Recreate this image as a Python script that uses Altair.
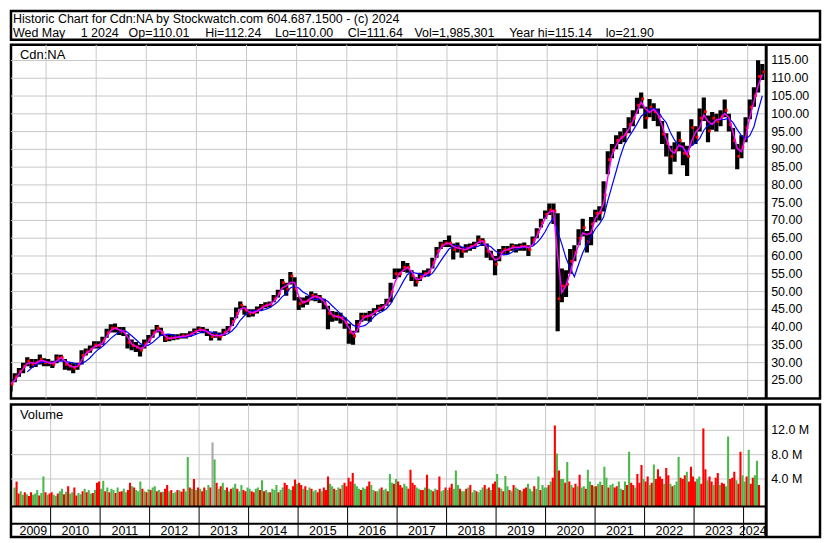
import altair as alt
import pandas as pd

# ---------------- data (monthly, Apr 2009 .. Apr 2024) ----------------
START_YEAR, START_MONTH = 2009, 4

close = [
    24.0, 26.0, 27.5, 29.0, 30.5, 29.5, 30.0, 31.0, 30.0,
    30.0, 29.5, 31.3, 31.5, 29.5, 29.0, 28.5, 29.3, 32.0, 33.0, 33.8, 35.0,
    34.8, 36.2, 38.4, 39.7, 39.7, 38.8, 38.8, 35.7, 34.8, 34.4, 33.5, 35.3,
    36.6, 38.4, 39.7, 38.4, 36.6, 36.9, 37.1, 37.2, 37.5, 37.5, 38.1, 38.8,
    39.4, 39.1, 38.5, 37.3, 37.8, 37.3, 38.5, 39.4, 41.6, 43.9, 46.2, 44.8,
    43.9, 44.1, 44.8, 45.7, 46.2, 46.4, 48.0, 49.4, 52.5, 50.7, 54.4, 50.7,
    46.6, 47.1, 47.5, 48.9, 48.5, 48.0, 46.6, 43.9, 43.0, 43.0, 42.5, 41.2,
    38.5, 37.5, 40.7, 43.0, 43.0, 43.4, 44.4, 45.3, 45.7, 47.1, 50.0, 55.0,
    55.0, 56.8, 56.8, 54.5, 52.7, 54.1, 55.0, 55.5, 58.2, 61.3, 63.1, 63.6,
    63.6, 61.8, 62.7, 61.3, 62.2, 62.7, 63.1, 64.5, 64.0, 61.3, 60.0, 57.7,
    60.9, 61.8, 61.8, 62.7, 62.2, 62.7, 62.7, 61.8, 64.5, 66.7, 69.4, 71.7,
    73.0, 72.6, 48.0, 51.5, 52.0, 58.5, 61.0, 65.0, 68.0, 64.0, 69.0, 72.0,
    72.2, 77.2, 87.1, 89.8, 92.5, 93.4, 94.3, 97.0, 98.8, 102.4, 104.2, 98.8,
    101.9, 100.6, 99.2, 94.3, 91.6, 88.0, 89.8, 92.5, 88.9, 88.0, 96.1, 93.4,
    98.8, 100.6, 95.2, 98.8, 97.9, 99.2, 101.0, 97.0, 92.5, 88.0, 90.7, 96.1,
    101.9, 105.1, 110.5, 111.8,
]
high = [
    25.5, 27.0, 28.5, 30.0, 31.5, 31.0, 31.0, 32.3, 31.2,
    31.0, 30.5, 32.3, 32.2, 31.0, 30.0, 29.8, 30.0, 33.5, 34.0, 34.8, 36.0,
    36.0, 37.3, 39.5, 40.8, 41.0, 40.0, 40.0, 38.0, 36.5, 35.8, 35.0, 36.5,
    37.8, 39.3, 40.6, 39.8, 38.0, 37.8, 38.0, 38.0, 38.3, 38.3, 38.8, 39.6,
    40.2, 40.0, 39.5, 38.5, 38.8, 38.5, 39.5, 40.3, 42.8, 45.5, 47.2, 46.0,
    45.0, 45.0, 45.8, 46.5, 47.0, 47.2, 49.0, 50.5, 53.5, 52.5, 55.5, 54.0,
    48.5, 48.3, 48.8, 50.0, 49.5, 49.0, 48.0, 46.0, 44.5, 44.3, 44.0, 42.8,
    41.0, 39.0, 42.0, 44.0, 44.0, 44.5, 45.3, 46.3, 46.5, 48.0, 52.5, 56.5,
    56.5, 58.6, 58.0, 56.0, 54.0, 55.3, 56.0, 56.5, 59.5, 62.5, 64.0, 64.5,
    65.8, 63.5, 63.8, 62.5, 63.3, 63.5, 64.0, 65.8, 65.0, 63.5, 61.5, 60.0,
    62.0, 62.8, 62.8, 63.5, 63.3, 63.5, 63.8, 63.0, 65.5, 67.8, 70.5, 72.8,
    74.8, 74.8, 72.0, 56.5, 56.0, 62.0, 63.0, 67.5, 70.5, 67.0, 71.0, 73.0,
    74.0, 81.0, 89.5, 91.5, 94.0, 95.0, 96.0, 99.0, 101.0, 104.5, 106.0, 102.0,
    104.2, 103.0, 101.5, 98.0, 94.5, 91.0, 92.0, 95.0, 92.0, 91.0, 98.5, 96.5,
    101.5, 104.6, 99.5, 100.5, 100.0, 101.0, 104.0, 100.0, 96.0, 91.5, 94.0, 99.0,
    104.0, 107.5, 115.1, 114.0,
]
low = [
    21.9, 24.5, 26.0, 27.0, 29.0, 28.5, 28.8, 29.5, 29.0,
    29.0, 28.5, 29.8, 30.5, 28.0, 27.8, 27.0, 28.0, 29.5, 32.0, 32.8, 34.0,
    34.0, 35.0, 37.0, 38.5, 38.5, 37.8, 37.5, 34.0, 33.5, 33.0, 31.7, 34.0,
    35.5, 37.0, 38.5, 37.5, 35.8, 36.0, 36.3, 36.5, 36.8, 36.8, 37.3, 38.0,
    38.6, 38.3, 37.5, 36.2, 37.0, 36.2, 37.5, 38.5, 40.3, 42.5, 45.0, 43.5,
    42.8, 43.0, 43.8, 44.8, 45.3, 45.5, 47.0, 48.3, 50.5, 48.8, 52.0, 47.5,
    44.8, 45.5, 46.3, 47.5, 47.3, 46.8, 45.0, 39.4, 41.5, 41.8, 41.0, 39.5,
    35.3, 35.0, 38.5, 41.5, 41.8, 41.5, 43.3, 44.3, 44.5, 46.0, 47.0, 53.5,
    54.0, 55.5, 55.3, 53.0, 51.4, 53.0, 54.0, 54.3, 56.5, 59.5, 62.0, 62.5,
    62.5, 59.0, 61.0, 59.5, 61.0, 61.5, 62.0, 63.3, 62.8, 59.5, 58.8, 54.6,
    58.5, 60.5, 60.5, 61.5, 61.0, 61.5, 61.5, 60.0, 63.0, 65.0, 68.0, 70.5,
    71.5, 69.0, 38.8, 47.0, 48.5, 55.0, 58.5, 63.0, 65.5, 61.0, 63.0, 69.5,
    70.0, 72.5, 83.0, 87.5, 90.0, 91.5, 92.0, 94.5, 96.5, 100.0, 101.5, 95.8,
    99.0, 98.0, 96.5, 91.5, 88.0, 83.0, 86.5, 89.5, 85.5, 82.5, 91.0, 91.5,
    95.0, 98.0, 92.0, 95.5, 95.0, 96.5, 99.0, 95.0, 90.0, 84.4, 87.5, 92.0,
    98.5, 102.0, 106.0, 109.5,
]

# volume, two values per month (first half, second half), in millions
volume_half = [
    2.6, 3.6, 1.6, 2.0, 1.4, 1.8, 1.5, 1.2, 1.8, 1.4, 1.6, 2.2, 1.3, 1.7, 4.4, 1.8, 1.4, 1.6,
    1.8, 1.4, 1.2, 1.6, 2.0, 2.4, 1.5, 1.9, 2.8, 1.6, 1.8, 2.6, 1.3, 1.7, 1.5, 2.0, 2.4, 1.8, 2.2, 1.6, 1.7, 2.2, 3.4, 3.6,
    2.4, 3.7, 2.0, 2.6, 1.8, 2.4, 2.2, 1.7, 2.6, 1.9, 2.0, 2.4, 1.8, 2.2, 3.4, 2.8, 2.6, 2.2, 2.0, 3.6, 2.4, 2.0, 1.8, 2.3,
    2.2, 2.6, 2.8, 2.0, 2.2, 1.8, 1.9, 2.4, 3.0, 2.0, 2.2, 1.7, 1.8, 2.2, 2.1, 1.9, 2.4, 2.0, 7.6, 2.6, 2.4, 4.0, 2.2, 2.6,
    2.4, 2.0, 2.6, 2.2, 3.0, 2.6, 10.0, 7.2, 3.4, 2.4, 2.8, 3.4, 2.2, 2.6, 2.0, 2.4, 2.6, 3.2, 2.4, 2.0, 3.0, 2.2, 2.0, 2.6,
    2.4, 2.0, 1.8, 2.4, 2.6, 2.2, 3.8, 2.0, 2.2, 1.8, 1.8, 2.4, 2.2, 3.0, 1.8, 2.2, 2.6, 3.4, 3.0, 2.4, 2.2, 2.8, 3.9, 3.2,
    3.4, 3.0, 2.4, 2.8, 2.2, 2.6, 2.4, 2.0, 2.2, 1.8, 2.4, 2.0, 2.6, 2.2, 4.4, 3.2, 2.8, 2.4, 2.2, 2.6, 2.4, 3.0, 3.4, 2.8,
    4.2, 3.6, 5.0, 3.2, 2.8, 2.4, 2.2, 2.6, 2.4, 2.8, 3.6, 3.0, 2.2, 2.0, 2.0, 2.4, 2.6, 2.2, 2.4, 2.0, 4.8, 3.4, 3.2, 4.0,
    3.6, 3.0, 2.6, 3.2, 2.8, 2.4, 5.5, 3.4, 3.0, 2.6, 2.4, 2.2, 2.2, 2.6, 4.7, 2.4, 2.2, 2.0, 2.4, 2.2, 4.4, 2.0, 2.2, 2.6,
    2.2, 2.6, 3.2, 2.4, 5.4, 3.0, 2.4, 2.0, 2.0, 2.4, 2.6, 3.0, 1.8, 2.2, 2.0, 1.8, 2.2, 2.6, 3.0, 2.4, 2.6, 2.2, 3.2, 3.6,
    4.8, 2.6, 2.4, 2.0, 4.5, 2.8, 2.2, 2.0, 3.0, 2.6, 2.4, 2.2, 2.0, 2.4, 2.6, 3.2, 2.4, 2.0, 2.8, 2.4, 4.4, 2.2, 3.0, 2.6,
    2.6, 3.0, 3.6, 4.2, 12.8, 8.2, 5.4, 4.0, 4.0, 3.4, 6.8, 3.6, 3.0, 2.6, 3.2, 2.8, 4.7, 2.6, 2.8, 2.4, 5.5, 3.6, 3.0, 2.8,
    2.8, 3.2, 3.6, 3.0, 6.0, 4.2, 2.6, 3.0, 3.2, 2.6, 2.8, 3.6, 2.4, 2.2, 3.6, 3.0, 8.5, 3.4, 3.0, 2.6, 4.8, 3.4, 6.3, 4.0,
    3.6, 4.4, 3.0, 3.4, 6.4, 4.0, 5.6, 4.4, 4.0, 3.2, 5.8, 4.6, 3.2, 2.8, 3.0, 3.6, 7.6, 4.2, 4.0, 4.6, 5.2, 3.6, 6.0, 4.4,
    3.6, 4.0, 4.4, 3.2, 12.3, 5.6, 3.8, 4.4, 3.6, 3.0, 4.2, 5.0, 3.0, 3.4, 3.2, 2.8, 11.0, 4.0, 4.2, 5.2, 3.8, 3.2, 8.5, 4.6,
    3.6, 4.4, 8.8, 3.2, 4.2, 4.6, 7.0, 3.0,
]
# bar colour of each half-month: g = up, r = down, n = unchanged
volume_side = "".join([
    "grrggrgrrgggrggrgrg"[:18],
    "rggrggrgrggrrggrgrggrgrr",
    "ggrgrggrgrrggrrgrgggrgrg",
    "rggrgrgrrgrggrgrrggrgrgr",
    "grrggrngrgrggrgrggrggrrg",
    "grrggrgrggrgggrggrrggrrg",
    "rrgrggrggrrgrrrggrggrgrr",
    "rrrgggrggrrggrggrggrggrg",
    "rrrggrrrrggrrgrggrgrrggr",
    "grrgggrggrgrggrgggrgrgrr",
    "grgrggrgrggrgrrgggrggrgg",
    "grgrrgrggrgrgrrgrggrggrg",
    "rggrggrggrrggrgrgrrgrrrg",
    "rrgrgrrrrgrrgrgggrrrgrrr",
    "rggrrrgrrgrrgrrggrrrgrrg",
    "grgrrggr",
])

price_ticks = [25, 30, 35, 40, 45, 50, 55, 60, 65, 70, 75, 80, 85, 90, 95,
               100, 105, 110, 115]
volume_ticks = [4000000, 8000000, 12000000]
year_labels = list(range(2009, 2025))
grid_years = list(range(2010, 2025))

title_line = "Historic Chart for Cdn:NA by Stockwatch.com 604.687.1500 - (c) 2024"
info_items = ["Wed May", "1 2024", "Op=110.01", "Hi=112.24", "Lo=110.00",
              "Cl=111.64", "Vol=1,985,301", "Year hi=115.14", "lo=21.90"]
info_x = [2, 70, 118, 195, 265, 338, 405, 500, 597]

# ---------------- layout ----------------
FONT = "Liberation Sans"
PLOT_W = 758
VIEW_W = 812
HEAD_H = 29
PRICE_H = 355
VOL_H = 133
X0, X1 = 2009.30, 2024.37
X1_VIEW = X1 + (VIEW_W - PLOT_W) * (X1 - X0) / PLOT_W
P0, P1 = 19.9, 119.4
V0, V1 = -5550000, 16250000
VOL_BASE = -530000
DATE_TOP = 102.4
DATE_MID = 119.6
LABEL_X = PLOT_W + 5

n = len(close)
t = [START_YEAR + (START_MONTH - 1 + i + 0.5) / 12 for i in range(n)]
df = pd.DataFrame({"t": t, "close": close, "high": high, "low": low})

nh = len(volume_half)
vdf = pd.DataFrame({
    "t": [START_YEAR + (START_MONTH - 1 + i / 2 + 0.25) / 12 for i in range(nh)],
    "volume": [v * 1e6 for v in volume_half],
    "side": list(volume_side[:nh]),
})

x_scale = alt.Scale(domain=[X0, X1_VIEW], nice=False, zero=False)
p_scale = alt.Scale(domain=[P0, P1], nice=False, zero=False)
v_scale = alt.Scale(domain=[V0, V1], nice=False, zero=False)
GRID = "#c8c8c8"

# ---------------- header ----------------
head_df = pd.DataFrame({
    "txt": [title_line] + info_items,
    "x": [2] + info_x,
    "y": [12.0] + [26.2] * len(info_items),
})
header = alt.Chart(head_df).mark_text(
    align="left", baseline="alphabetic", font=FONT, fontSize=12.5, color="black"
).encode(
    x=alt.X("x:Q", scale=None), y=alt.Y("y:Q", scale=None), text="txt:N"
).properties(width=VIEW_W, height=HEAD_H)

# ---------------- price panel ----------------
xq = alt.X("t:Q", scale=x_scale, axis=None)
ticks_df = pd.DataFrame({"p": price_ticks})

p_hgrid = alt.Chart(ticks_df).mark_rule(color=GRID, strokeWidth=1).encode(
    y=alt.Y("p:Q", scale=p_scale, axis=None),
    x=alt.value(0), x2=alt.value(PLOT_W),
)
p_axis_labels = alt.Chart(ticks_df).mark_text(
    align="left", baseline="middle", font=FONT, fontSize=12.5, color="black"
).encode(
    y=alt.Y("p:Q", scale=p_scale, axis=None),
    x=alt.value(LABEL_X),
    text=alt.Text("p:Q", format=".2f"),
)
p_vgrid = alt.Chart(pd.DataFrame({"yr": grid_years})).mark_rule(
    color=GRID, strokeWidth=1
).encode(x=alt.X("yr:Q", scale=x_scale, axis=None),
         y=alt.value(0), y2=alt.value(PRICE_H))

ohlc = alt.Chart(df).mark_rule(color="black", strokeWidth=4.2, clip=True).encode(
    x=xq, y=alt.Y("low:Q", scale=p_scale, axis=None), y2="high:Q")
ticks_close = alt.Chart(df).mark_square(color="red", size=8, xOffset=1.5, clip=True,
                                         opacity=1).encode(
    x=xq, y=alt.Y("close:Q", scale=p_scale, axis=None))
ma_short = alt.Chart(df).transform_window(
    ma1="mean(close)", frame=[-1, 0], sort=[alt.SortField("t")]
).mark_line(color="#ff00ff", strokeWidth=1.5, clip=True).encode(
    x=xq, y=alt.Y("ma1:Q", scale=p_scale, axis=None))
ma_long = alt.Chart(df).transform_window(
    ma2="mean(close)", rn="row_number()", frame=[-4, 0], sort=[alt.SortField("t")]
).transform_filter("datum.rn >= 5").mark_line(
    color="#0000ff", strokeWidth=1.2, clip=True).encode(
    x=xq, y=alt.Y("ma2:Q", scale=p_scale, axis=None))
p_sep = alt.Chart(pd.DataFrame({"a": [0]})).mark_rule(color="black", strokeWidth=3).encode(
    x=alt.value(PLOT_W), y=alt.value(0), y2=alt.value(PRICE_H))
p_label = alt.Chart(pd.DataFrame({"txt": ["Cdn:NA"]})).mark_text(
    align="left", baseline="alphabetic", font=FONT, fontSize=13, color="black"
).encode(x=alt.value(9), y=alt.value(14.5), text="txt:N")

price = alt.layer(p_hgrid, p_vgrid, ohlc, ticks_close, ma_long, ma_short,
                  p_sep, p_label, p_axis_labels).properties(width=VIEW_W, height=PRICE_H)

# ---------------- volume panel + date strip ----------------
vt_df = pd.DataFrame({"v": volume_ticks})
v_hgrid = alt.Chart(vt_df).mark_rule(color=GRID, strokeWidth=1).encode(
    y=alt.Y("v:Q", scale=v_scale, axis=None),
    x=alt.value(0), x2=alt.value(PLOT_W),
)
v_axis_labels = alt.Chart(vt_df).transform_calculate(
    lab="format(datum.v / 1000000, '.1f') + ' M'"
).mark_text(
    align="left", baseline="middle", font=FONT, fontSize=12.5, color="black"
).encode(
    y=alt.Y("v:Q", scale=v_scale, axis=None),
    x=alt.value(LABEL_X), text="lab:N",
)
v_vgrid = alt.Chart(pd.DataFrame({"yr": grid_years})).mark_rule(
    color=GRID, strokeWidth=1
).encode(x=alt.X("yr:Q", scale=x_scale, axis=None),
         y=alt.value(0), y2=alt.value(DATE_TOP))
vol_bars = alt.Chart(vdf).mark_bar(size=2.1, clip=True).encode(
    x=xq,
    y=alt.Y("volume:Q", scale=v_scale, axis=None),
    y2=alt.datum(VOL_BASE),
    color=alt.Color("side:N", scale=alt.Scale(domain=["g", "r", "n"],
                                              range=["#4cb84c", "#ff0000", "#a8a8a8"]),
                    legend=None),
)
d_lines = alt.Chart(pd.DataFrame({"yy": [DATE_TOP, DATE_MID]})).mark_rule(
    color="black", strokeWidth=2
).encode(y=alt.Y("yy:Q", scale=None), x=alt.value(0), x2=alt.value(PLOT_W))
d_div = alt.Chart(pd.DataFrame({"yr": grid_years})).mark_rule(
    color="black", strokeWidth=1
).encode(x=alt.X("yr:Q", scale=x_scale, axis=None),
         y=alt.value(DATE_TOP), y2=alt.value(VOL_H))
lab_df = pd.DataFrame({
    "yr": [str(y) for y in year_labels],
    "mid": [(max(y, X0) + min(y + 1, X1)) / 2 for y in year_labels],
})
d_labels = alt.Chart(lab_df).mark_text(
    align="center", baseline="alphabetic", font=FONT, fontSize=12.5, color="black"
).encode(x=alt.X("mid:Q", scale=x_scale, axis=None), y=alt.value(130.5), text="yr:N")
v_sep = alt.Chart(pd.DataFrame({"a": [0]})).mark_rule(color="black", strokeWidth=3).encode(
    x=alt.value(PLOT_W), y=alt.value(0), y2=alt.value(VOL_H))
v_label = alt.Chart(pd.DataFrame({"txt": ["Volume"]})).mark_text(
    align="left", baseline="alphabetic", font=FONT, fontSize=13, color="black"
).encode(x=alt.value(9), y=alt.value(14.5), text="txt:N")

volume = alt.layer(v_hgrid, v_vgrid, vol_bars, d_lines, d_div, d_labels,
                   v_sep, v_label, v_axis_labels).properties(width=VIEW_W, height=VOL_H)

chart = alt.vconcat(header, price, volume, spacing=0).properties(
    padding=0, background="white"
).configure_view(stroke="black", strokeWidth=2.5).configure_concat(spacing=0)

chart.save("out.html", embed_options={"renderer": "svg", "actions": False})
